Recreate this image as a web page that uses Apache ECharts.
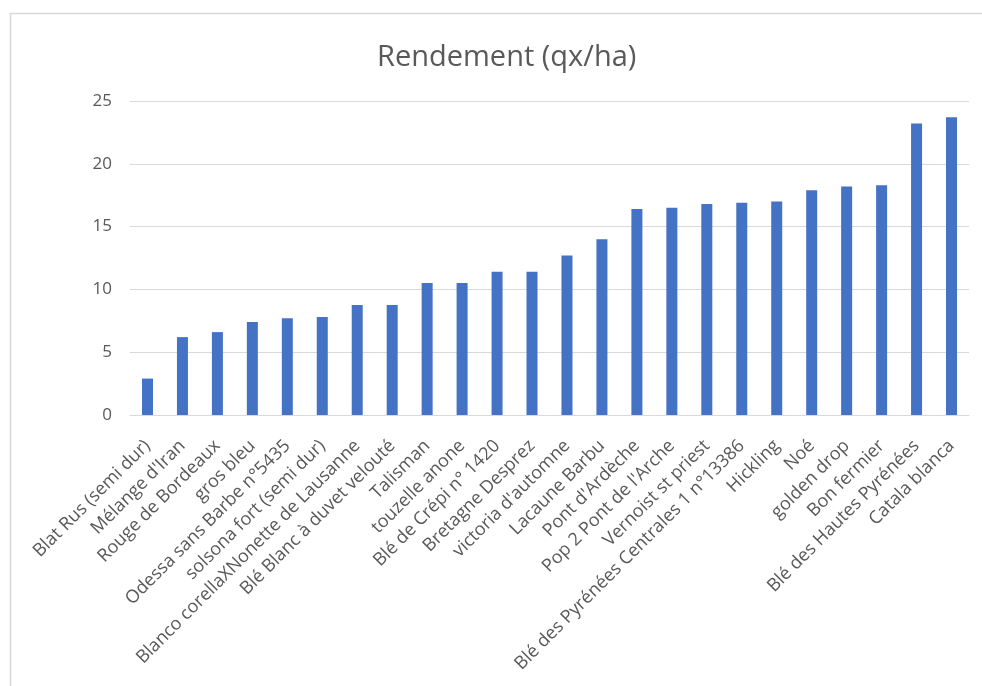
<!DOCTYPE html>
<html>
<head>
<meta charset="utf-8">
<script src="https://cdn.jsdelivr.net/npm/echarts@6/dist/echarts.min.js"></script>
<style>
  html, body { margin: 0; padding: 0; background: #fff; }
  #chart { width: 982px; height: 686px; }
</style>
</head>
<body>
<div id="chart"></div>
<script>
// Wheat varieties and their yield in quintals per hectare
const varieties = [
  "Blat Rus (semi dur)", "Mélange d'Iran", "Rouge de Bordeaux", "gros bleu",
  "Odessa sans Barbe n°5435", "solsona fort (semi dur)", "Blanco corellaXNonette de Lausanne",
  "Blé Blanc à duvet velouté", "Talisman", "touzelle anone", "Blé de Crépi n° 1420",
  "Bretagne Desprez", "victoria d'automne", "Lacaune Barbu", "Pont d'Ardèche",
  "Pop 2 Pont de l'Arche", "Vernoist st priest", "Blé des Pyrénées Centrales 1 n°13386",
  "Hickling", "Noé", "golden drop", "Bon fermier", "Blé des Hautes Pyrénées", "Catala blanca"
];
const yields = [
  2.9, 6.2, 6.6, 7.4, 7.7, 7.8, 8.75, 8.75, 10.5, 10.5, 11.4, 11.4,
  12.7, 14.0, 16.4, 16.5, 16.8, 16.9, 17.0, 17.9, 18.2, 18.3, 23.2, 23.7
];
const yTicks = [0, 5, 10, 15, 20, 25];

const chart = echarts.init(document.getElementById('chart'), null, { renderer: 'canvas' });
const font = "'Open Sans', 'Noto Sans', sans-serif";

chart.setOption({
  backgroundColor: '#ffffff',
  animation: false,
  title: {
    text: 'Rendement (qx/ha)',
    left: 372,
    top: 38,
    textStyle: { fontFamily: font, fontSize: 29, fontWeight: 'normal', color: '#595959' }
  },
  graphic: [{
    type: 'rect',
    shape: { x: 10.5, y: 13.5, width: 990, height: 700 },
    style: { fill: 'none', stroke: '#d9d9d9', lineWidth: 1.5 },
    silent: true
  }],
  grid: { left: 130, right: 13, top: 101, bottom: 271, containLabel: false },
  xAxis: {
    type: 'category',
    data: varieties,
    axisLine: { show: true, lineStyle: { color: '#d9d9d9', width: 1 } },
    axisTick: { show: false },
    axisLabel: {
      rotate: 45,
      interval: 0,
      margin: 28,
      fontFamily: font,
      fontSize: 18,
      color: '#595959'
    }
  },
  yAxis: {
    type: 'value',
    min: yTicks[0],
    max: yTicks[yTicks.length - 1],
    interval: 5,
    axisLine: { show: false },
    axisTick: { show: false },
    splitLine: { lineStyle: { color: '#d9d9d9', width: 1 } },
    axisLabel: {
      margin: 18,
      fontFamily: font,
      fontSize: 17,
      color: '#595959'
    }
  },
  series: [{
    type: 'bar',
    data: yields,
    barWidth: 11,
    itemStyle: { color: '#4472C4' }
  }]
});
</script>
</body>
</html>
